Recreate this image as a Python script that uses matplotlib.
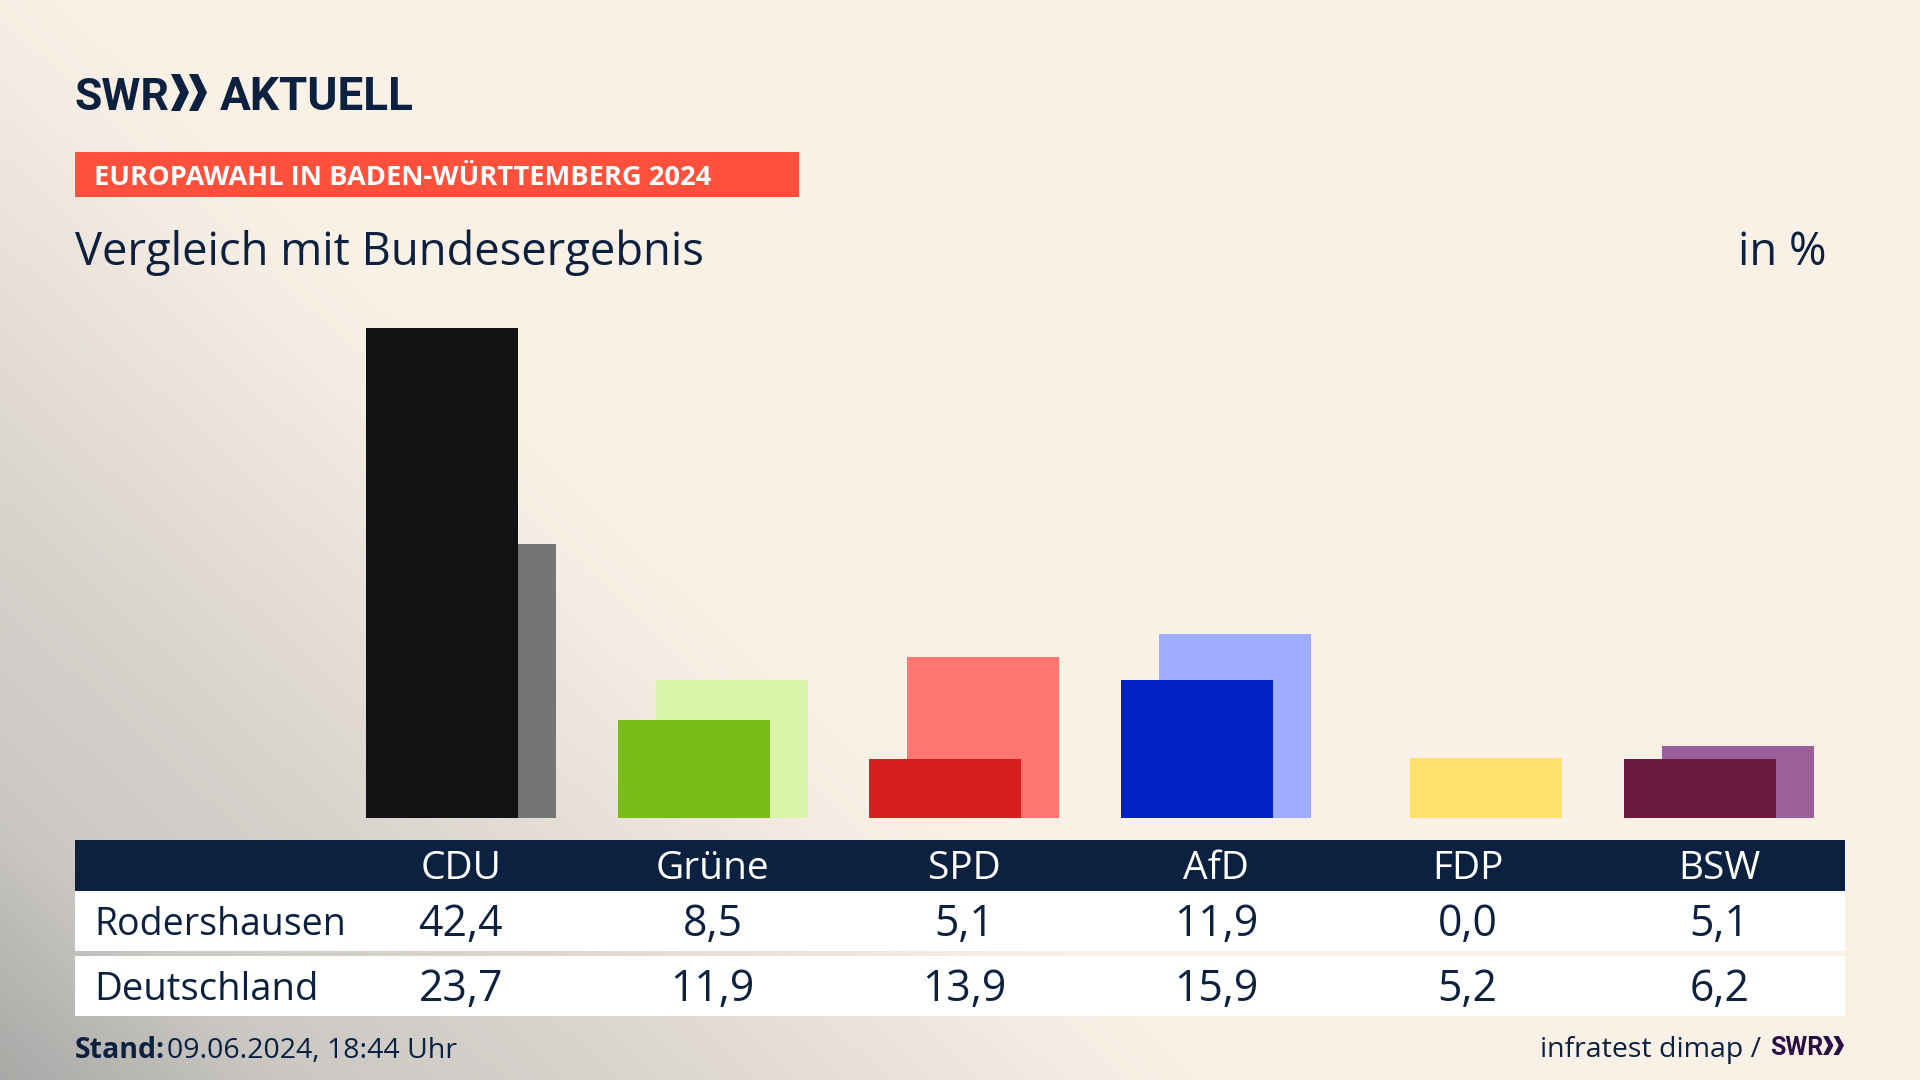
"""
plot.py
-----------------------------
Vergleich mit Bundesergebnis, Europawahl 2024 in Rodershausen.

Draws the party bars, the value table below them and the SWR header.
"""

import numpy as np
import pandas as pd
import matplotlib
matplotlib.use("Agg")  # Non-interactive backend
import matplotlib.pyplot as plt
from matplotlib.colors import LinearSegmentedColormap

NAVY = "#0C203F"
FONT = "Open Sans"
LOGO_FONT = "Roboto"
WIDTH, HEIGHT = 1920, 1080


def load_results() -> pd.DataFrame:
    """Build the result table."""
    return pd.DataFrame(
        {
            "party": ["CDU", "Grüne", "SPD", "AfD", "FDP", "BSW"],
            "local": [42.4, 8.5, 5.1, 11.9, 0.0, 5.1],
            "national": [23.7, 11.9, 13.9, 15.9, 5.2, 6.2],
            "color": ["#121212", "#7ABD1B", "#D81F1F", "#0021C4", "#FEE06F", "#6B1A40"],
            "light": ["#757573", "#D8F5A9", "#FF7670", "#9EADFF", "#FEE06F", "#9B5F99"],
        }
    )


def fmt(value: float) -> str:
    """German decimal comma."""
    return f"{value:.1f}".replace(".", ",")


def pixel_axes(fig, left, top, right, bottom):
    """Axes placed by its pixel box, top-left origin."""
    return fig.add_axes(
        [left / WIDTH, 1 - bottom / HEIGHT, (right - left) / WIDTH, (bottom - top) / HEIGHT]
    )


def draw_chevrons(ax, x, top, bottom, width, color) -> None:
    """The two arrows of the SWR logo."""
    mid = (top + bottom) / 2
    thick = width * 0.5
    for left in (x, x + width):
        ax.fill(
            [left, left + thick, left + width, left + thick, left, left + width - thick],
            [top, top, mid, bottom, bottom, mid],
            color=color,
            linewidth=0,
        )


def draw_background(fig) -> None:
    """Cream page with the grey corner at bottom left."""
    ax = pixel_axes(fig, 0, 0, WIDTH, HEIGHT)
    ax.set_zorder(-1)
    yy, xx = np.mgrid[0:HEIGHT:270j, 0:WIDTH:480j]
    dist = xx / 1250 + (HEIGHT - yy) / 1180
    cmap = LinearSegmentedColormap.from_list(
        "corner",
        [
            (0.0, "#A9A9A7"),
            (0.23, "#CBC8C4"),
            (0.45, "#D6D1CB"),
            (0.67, "#E6DFD8"),
            (0.88, "#F5EDE3"),
            (1.0, "#FAF1E6"),
        ],
    )
    ax.imshow(np.clip(dist, 0, 1), cmap=cmap, vmin=0, vmax=1, aspect="auto",
              extent=(0, WIDTH, HEIGHT, 0), interpolation="bilinear")
    ax.axis("off")


def draw_header(fig) -> None:
    """Logo, red kicker, title and unit."""
    ax = pixel_axes(fig, 0, 0, WIDTH, HEIGHT)
    ax.axis("off")

    # Logo
    ax.text(75, 110, "SWR", color=NAVY, fontsize=32, fontweight="bold",
            family=LOGO_FONT, va="baseline", ha="left")
    draw_chevrons(ax, 171, 74, 111, 18, NAVY)
    ax.text(220, 110, "AKTUELL", color=NAVY, fontsize=33, fontweight="bold",
            family=LOGO_FONT, va="baseline", ha="left")

    # Kicker
    ax.fill_between([75, 799], 152, 197, color="#FF503C", linewidth=0)
    ax.text(94, 178, "EUROPAWAHL IN BADEN-WÜRTTEMBERG 2024", color="white", fontsize=19.6,
            fontweight="bold", family=FONT, va="center", ha="left")

    ax.text(75, 253, "Vergleich mit Bundesergebnis", color=NAVY, fontsize=32.7,
            family=FONT, va="center", ha="left")
    ax.text(1826, 253, "in %", color=NAVY, fontsize=32.7, family=FONT, va="center", ha="right")

    ax.set_xlim(0, WIDTH)
    ax.set_ylim(HEIGHT, 0)


def draw_bars(fig, results: pd.DataFrame) -> None:
    """Overlapping bars, national behind and local in front."""
    ax = pixel_axes(fig, 335.5, 328, 1844.5, 818)
    ax.patch.set_alpha(0)
    x = np.arange(len(results))
    ax.bar(x + 0.0755, results["national"], width=0.604, color=results["light"], linewidth=0)
    ax.bar(x - 0.0755, results["local"], width=0.604, color=results["color"], linewidth=0)
    ax.set_xlim(-0.5, 5.5)
    ax.set_ylim(0, 42.4)
    ax.axis("off")


def draw_table(fig, results: pd.DataFrame) -> None:
    """Value table with navy header and two white rows."""
    ax = pixel_axes(fig, 75, 840, 1845, 1016)
    ax.patch.set_alpha(0)
    ax.set_xlim(-0.5 - 260 / 251.67, 5.5)
    ax.set_ylim(176, 0)
    ax.axis("off")

    ax.axhspan(0, 51, color=NAVY, linewidth=0)
    ax.axhspan(51, 111, color="white", linewidth=0)
    ax.axhspan(116, 176, color="white", linewidth=0)

    label_x = -0.5 - 241 / 251.67
    ax.text(label_x, 85, "Rodershausen", color=NAVY, fontsize=27, family=FONT, va="center")
    ax.text(label_x, 150, "Deutschland", color=NAVY, fontsize=27.5, family=FONT, va="center")

    for i, row in results.iterrows():
        ax.text(i, 29, row["party"], color="white", fontsize=28, family=FONT,
                ha="center", va="center")
        ax.text(i, 85, fmt(row["local"]), color=NAVY, fontsize=30.8, family=FONT,
                ha="center", va="center")
        ax.text(i, 150, fmt(row["national"]), color=NAVY, fontsize=30.8, family=FONT,
                ha="center", va="center")


def draw_footer(fig) -> None:
    """Timestamp and source line."""
    ax = pixel_axes(fig, 0, 0, WIDTH, HEIGHT)
    ax.axis("off")

    ax.text(75, 1051, "Stand:", color=NAVY, fontsize=20.5, fontweight="bold", family=FONT, va="center")
    ax.text(167, 1051, "09.06.2024, 18:44 Uhr", color=NAVY, fontsize=20.5, family=FONT, va="center")
    ax.text(1761, 1050, "infratest dimap /", color=NAVY, fontsize=20.5, family=FONT,
            va="center", ha="right")
    ax.text(1770, 1055, "SWR", color="#2A0F45", fontsize=18, fontweight="bold",
            family=LOGO_FONT, va="baseline", ha="left")
    draw_chevrons(ax, 1823, 1036, 1055, 10.5, "#2A0F45")

    ax.set_xlim(0, WIDTH)
    ax.set_ylim(HEIGHT, 0)


def main():
    results = load_results()

    fig = plt.figure(figsize=(19.2, 10.8), dpi=100)
    fig.patch.set_facecolor("#FAF1E6")

    draw_background(fig)
    draw_header(fig)
    draw_bars(fig, results)
    draw_table(fig, results)
    draw_footer(fig)

    plt.savefig("out.png", dpi=100, facecolor=fig.get_facecolor())
    plt.close()


if __name__ == "__main__":
    main()
